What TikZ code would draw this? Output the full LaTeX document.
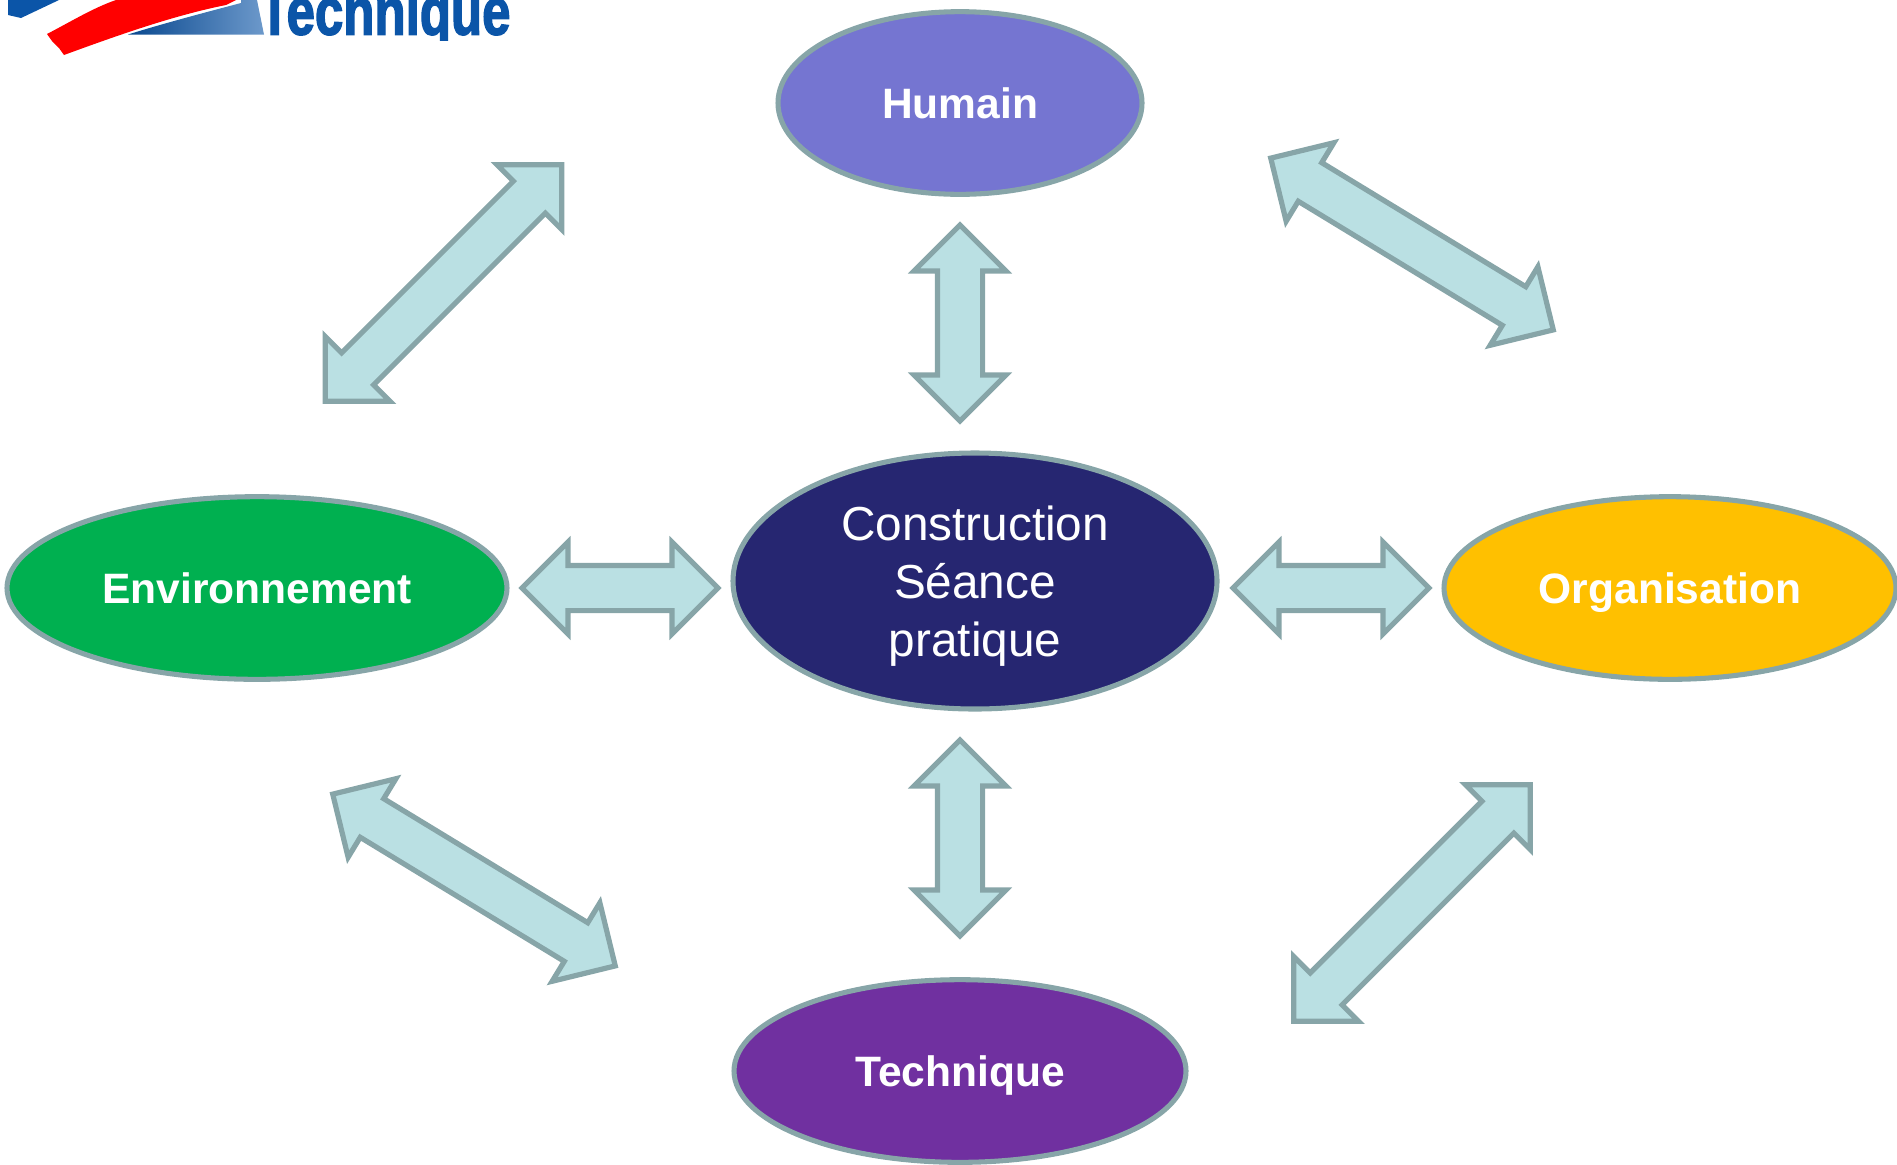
\documentclass[tikz,border=0pt]{standalone}
\usepackage{fontspec}
\setmainfont{Liberation Sans}
\newfontfamily\logofont[FakeBold=2.5]{Liberation Sans Bold}
\usetikzlibrary{shapes.geometric,shapes.arrows}
\definecolor{edgecol}{HTML}{87A5A8}
\definecolor{arrowfill}{HTML}{BAE0E3}
\definecolor{cHum}{HTML}{7575D1}
\definecolor{cCen}{HTML}{262671}
\definecolor{cEnv}{HTML}{00B050}
\definecolor{cOrg}{HTML}{FFC000}
\definecolor{cTec}{HTML}{7030A0}
\definecolor{logoblue}{HTML}{0B55A8}
\tikzset{
  oval/.style={ellipse,draw=edgecol,line width=3.8pt,inner sep=0pt,text=white,align=center},
  bold label/.style={font=\fontsize{31.9pt}{36pt}\selectfont\bfseries,text height=23pt,text depth=0pt},
  blockarrow/.style={shape=double arrow,draw=edgecol,fill=arrowfill,line width=3.9pt,inner xsep=0pt,inner ysep=15pt,
    double arrow head extend=17.5pt,double arrow head indent=0pt,minimum width=65pt,minimum height=147pt},
}
\begin{document}
\begin{tikzpicture}[x=0.75pt,y=-0.75pt]
\useasboundingbox (0,0) rectangle (1897,1164);
\clip (0,0) rectangle (1897,1164);
% logo
\fill[logoblue] (8,0) -- (8,15) -- (21,18) -- (59,0) -- cycle;
\fill[red] (47,34) .. controls (72,21) and (93,8) .. (116,0) -- (236,0) -- (226,5) .. controls (176,15) and (124,33) .. (64,55) -- (59,48) -- (52,41) -- cycle;
\shade[left color=logoblue!85!black,right color=logoblue!60!white] (128,34.5) .. controls (165,23) and (207,12) .. (241,3) -- (241,0) -- (257,0) -- (264,34.5) -- cycle;
\begin{scope}
\clip (260,0) rectangle (520,40);
\node[anchor=base west,inner sep=0pt,text=logoblue,xscale=0.765,font=\fontsize{50pt}{50pt}\selectfont\logofont] (logo) at (259,34.5) {Technique};
\end{scope}
% ellipses
\node[oval,bold label,fill=cHum,minimum width=273pt,minimum height=137pt] (hum) at (960,103) {Humain};
\node[oval,fill=cCen,minimum width=363pt,minimum height=192pt,
  label={[name=cenText,text=white,align=center,inner sep=0pt,yshift=-3.75pt,font=\fontsize{35.8pt}{43.5pt}\selectfont]center:Construction\\Séance\\pratique}] (cen) at (975,581) {};
\node[oval,bold label,fill=cEnv,minimum width=375pt,minimum height=137pt] (env) at (257,588) {Environnement};
\node[oval,bold label,fill=cOrg,minimum width=339pt,minimum height=137pt] (org) at (1670,588) {Organisation};
\node[oval,bold label,fill=cTec,minimum width=339pt,minimum height=137pt] (tec) at (960,1071) {Technique};
% block arrows
\node[blockarrow,rotate=90] (a1) at (960,323) {};
\node[blockarrow,rotate=90] (a2) at (960,838) {};
\node[blockarrow] (a3) at (620,588) {};
\node[blockarrow] (a4) at (1331,588) {};
\node[blockarrow,minimum height=251pt,rotate=45] (a5) at (443.5,283) {};
\node[blockarrow,minimum height=251pt,rotate=45] (a6) at (1412,903) {};
\node[blockarrow,minimum height=248pt,rotate=-31.3] (a7) at (1412,244) {};
\node[blockarrow,minimum height=248pt,rotate=-31.3] (a8) at (474,880) {};
\end{tikzpicture}
\end{document}
